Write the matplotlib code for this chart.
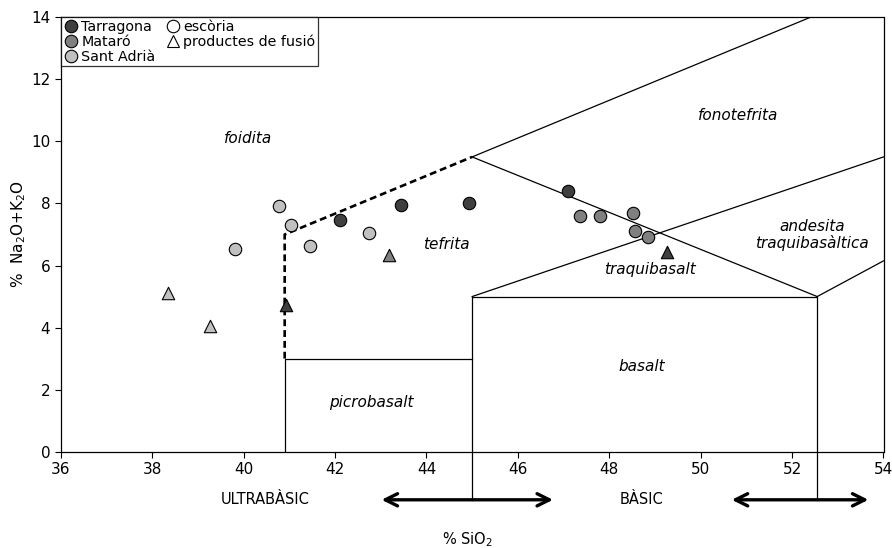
import matplotlib
matplotlib.use("Agg")
import matplotlib.pyplot as plt
from matplotlib.lines import Line2D

plt.rcParams['font.family'] = ['DejaVu Sans']

# ---- data ----
tarragona_x = [42.12, 43.45, 44.93, 47.09]
tarragona_y = [7.46, 7.94, 8.00, 8.41]
mataro_x = [47.37, 47.79, 48.52, 48.57, 48.85]
mataro_y = [7.61, 7.59, 7.70, 7.11, 6.91]
santadria_x = [39.82, 40.78, 41.04, 41.46, 42.74]
santadria_y = [6.53, 7.93, 7.31, 6.62, 7.04]
# productes de fusió (triangles), coloured by locality
fus_tarr_x = [40.93, 49.26]
fus_tarr_y = [4.73, 6.45]
fus_mat_x = [43.19]
fus_mat_y = [6.35]
fus_sa_x = [38.34, 39.27]
fus_sa_y = [5.10, 4.06]

xticks = [36, 38, 40, 42, 44, 46, 48, 50, 52, 54]
yticks = [0, 2, 4, 6, 8, 10, 12, 14]

# TAS field boundaries (solid)
boundaries = [
    ([40.9, 40.9, 45.0], [0, 3, 3]),
    ([45.0, 45.0, 52.55, 52.55], [0, 5, 5, 0]),
    ([45.0, 52.55], [9.5, 5]),
    ([45.0, 52.4], [9.5, 14]),
    ([45.0, 54.0], [5, 9.5]),
    ([52.55, 54.0], [5, 6.15]),
]
dashed = ([40.9, 40.9, 45.0], [3, 7, 9.5])

labels = [
    ("foidita", 40.1, 10.1),
    ("fonotefrita", 50.82, 10.85),
    ("tefrita", 44.43, 6.69),
    ("traquibasalt", 48.9, 5.86),
    ("andesita\ntraquibasàltica", 52.44, 6.98),
    ("basalt", 48.72, 2.73),
    ("picrobasalt", 42.79, 1.57),
]

c_dark, c_mid, c_light = '#3f3f3f', '#808080', '#c0c0c0'

fig = plt.figure(figsize=(8.92, 5.48), dpi=100)
ax = fig.add_axes([60.7/892, 1-451.7/548, (883.5-60.7)/892, (451.7-17.3)/548])

for xs, ys in boundaries:
    ax.plot(xs, ys, color='black', lw=0.9, zorder=2)
ax.plot(dashed[0], dashed[1], color='black', lw=1.9, ls=(0, (2.6, 1.5)), zorder=2)

for t, x, y in labels:
    ax.text(x, y, t, ha='center', va='center', style='italic', fontsize=11,
            linespacing=1.1)

ms = 80
ax.scatter(tarragona_x, tarragona_y, s=ms, c=c_dark, edgecolors='black', linewidths=0.8, zorder=4)
ax.scatter(mataro_x, mataro_y, s=ms, c=c_mid, edgecolors='black', linewidths=0.8, zorder=4)
ax.scatter(santadria_x, santadria_y, s=ms, c=c_light, edgecolors='black', linewidths=0.8, zorder=4)
ts = 80
ax.scatter(fus_tarr_x, fus_tarr_y, s=ts, marker='^', c=c_dark, edgecolors='black', linewidths=0.8, zorder=4)
ax.scatter(fus_mat_x, fus_mat_y, s=ts, marker='^', c=c_mid, edgecolors='black', linewidths=0.8, zorder=4)
ax.scatter(fus_sa_x, fus_sa_y, s=ts, marker='^', c=c_light, edgecolors='black', linewidths=0.8, zorder=4)

ax.set_xlim(36, 54)
ax.set_ylim(0, 14)
ax.set_xticks(xticks)
ax.set_yticks(yticks)
ax.tick_params(direction='out', length=4, width=0.8, labelsize=11, colors='black')
for sp in ax.spines.values():
    sp.set_linewidth(0.9)
    sp.set_color('black')

ax.set_ylabel('%  Na$_2$O+K$_2$O', fontsize=11, labelpad=2)

# legend
handles = [
    Line2D([], [], ls='', marker='o', ms=9, mfc=c_dark, mec='black', mew=0.8),
    Line2D([], [], ls='', marker='o', ms=9, mfc=c_mid, mec='black', mew=0.8),
    Line2D([], [], ls='', marker='o', ms=9, mfc=c_light, mec='black', mew=0.8),
    Line2D([], [], ls='', marker='o', ms=9, mfc='white', mec='black', mew=0.8),
    Line2D([], [], ls='', marker='^', ms=9, mfc='white', mec='black', mew=0.8),
]
names = ['Tarragona', 'Mataró', 'Sant Adrià', 'escòria', 'productes de fusió']
leg = ax.legend(handles, names, ncol=2, loc='upper left', bbox_to_anchor=(0, 1),
                borderaxespad=0, fontsize=10.3, frameon=True, fancybox=False,
                handletextpad=0.25, columnspacing=0.7, labelspacing=0.05,
                borderpad=0.2, handlelength=1.0)
leg.get_frame().set_edgecolor('black')
leg.get_frame().set_linewidth(0.9)
leg.set_zorder(6)

# bottom annotations
yb = -1.55
ax.plot([45.0, 45.0], [0, yb], color='black', lw=0.9, clip_on=False)
ax.plot([52.55, 52.55], [0, yb], color='black', lw=0.9, clip_on=False)
for x0, x1 in [(43.02, 46.77), (50.68, 53.67)]:
    ax.annotate('', xy=(x0, yb), xytext=(x1, yb), xycoords='data',
                arrowprops=dict(arrowstyle='<->', lw=2.4, color='black',
                                mutation_scale=22, shrinkA=0, shrinkB=0),
                annotation_clip=False)
ax.text(40.47, yb, 'ULTRABÀSIC', ha='center', va='center', fontsize=10.5, clip_on=False)
ax.text(48.7, yb, 'BÀSIC', ha='center', va='center', fontsize=10.5, clip_on=False)
ax.text(44.9, -2.85, '% SiO$_2$', ha='center', va='center', fontsize=10.5, clip_on=False)

fig.savefig('out.png', dpi=100)
